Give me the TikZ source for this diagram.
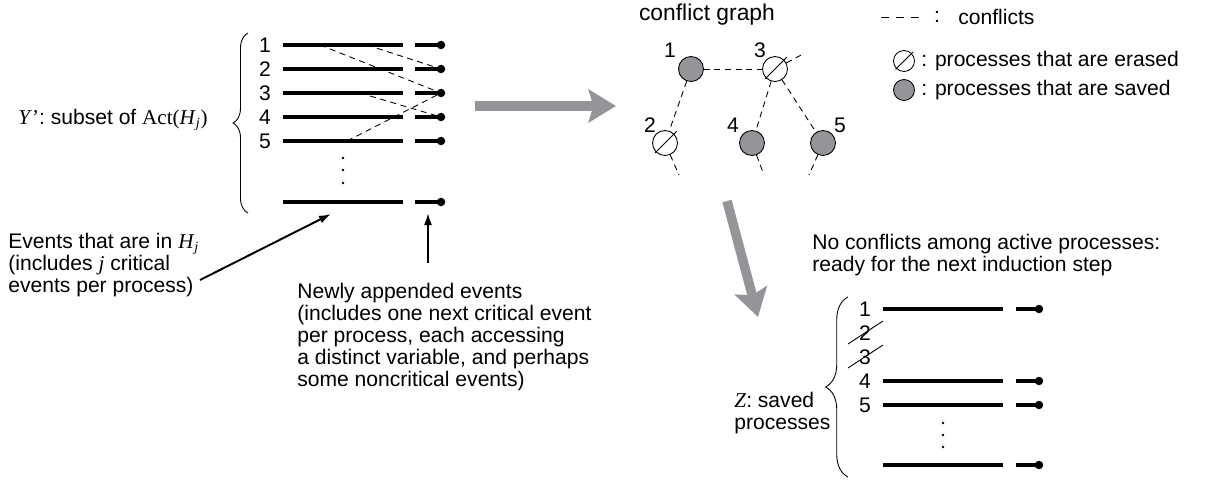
\documentclass[tikz,border=0pt]{standalone}
\usepackage{fontspec}
\setmainfont{Liberation Sans}
\newfontfamily\tms{Liberation Serif}
\usetikzlibrary{arrows.meta,decorations.pathreplacing}

\definecolor{procgray}{RGB}{147,149,152}
\newcommand{\HJ}{{\tms\textit{H}\textsubscript{\textit{j}}}}

\tikzset{
	txt/.style={font=\fontsize{12}{12.5}\selectfont, inner sep=0pt},
	evline/.style={line width=1.9pt},
	confl/.style={dash pattern=on 3.4pt off 2.6pt, line width=0.5pt},
	ptr/.style={-{Latex[length=0.24cm,width=0.16cm]}, line width=1.1pt},
	bigarrow/.style={-{Stealth[length=0.55cm,width=0.66cm,inset=0.1cm]}, line width=0.19cm, procgray},
	saved/.style={circle, draw, fill=procgray, minimum size=0.5cm, inner sep=0pt, line width=0.5pt},
	erased/.style={circle, draw, fill=white, minimum size=0.5cm, inner sep=0pt, line width=0.5pt},
	bracket/.style={decorate, decoration={brace, amplitude=#1}, line width=0.5pt},
}

\begin{document}
\begin{tikzpicture}[x=0.02cm, y=-0.02cm]
	\useasboundingbox (0,0) rectangle (1205,481);
	
	% processes of Y'
	\node[txt, anchor=east] (ylbl) at (208,120) {{\tms\textit{Y}’}: subset of {\tms Act(}\HJ{\tms)}};
	\foreach \i/\y in {1/45,2/69,3/93,4/117,5/141,l/202}{
		\coordinate (ya\i) at (283,\y);
		\coordinate (yb\i) at (403,\y);
		\coordinate (yc\i) at (415,\y);
		\coordinate (yd\i) at (441,\y);
		\draw[evline] (ya\i) -- (yb\i);
		\draw[evline] (yc\i) -- (yd\i);
		\fill (yd\i) circle[radius=0.085cm];
	}
	\foreach \i/\y in {1/45,2/69,3/93,4/117,5/141}
		\node[txt] (yn\i) at (265,\y) {\i};
	\foreach \y in {158,170,183}
		\fill (343,\y) circle[radius=0.028cm];
	\coordinate (ybot) at (248,213);
	\coordinate (ytop) at (248,33);
	\draw[bracket=0.3cm] (ybot) -- (ytop);
	
	\coordinate (ca) at (320,45);
	\coordinate (cb) at (367,45);
	\coordinate (cc) at (360,93);
	\coordinate (cd) at (347,141);
	\draw[confl] (ca) -- (yd3);
	\draw[confl] (cb) -- (yd2);
	\draw[confl] (cc) -- (yd4);
	\draw[confl] (cd) -- (yd3);
	
	\node[txt, anchor=west, align=left] (evtxt) at (8,265) {Events that are in \HJ\\(includes {\tms\textit{j}} critical\\events per process)};
	\node[txt, anchor=west, align=left] (newtxt) at (297,337) {Newly appended events\\(includes one next critical event\\per process, each accessing\\a distinct variable, and perhaps\\some noncritical events)};
	\coordinate (evtail) at (200,280);
	\coordinate (evtip) at (331,214);
	\draw[ptr] (evtail) -- (evtip);
	\coordinate (nwtail) at (428,263);
	\coordinate (nwtip) at (428,213);
	\draw[ptr] (nwtail) -- (nwtip);
	
	\coordinate (ba1) at (475,106);
	\coordinate (ba2) at (616,106);
	\draw[bigarrow] (ba1) -- (ba2);
	\coordinate (bb1) at (727,201);
	\coordinate (bb2) at (758,317);
	\draw[bigarrow] (bb1) -- (bb2);
	
	% conflict graph
	\node[txt, font=\fontsize{13}{14}\selectfont] (gtitle) at (707,15) {conflict graph};
	\node[saved] (g1) at (691,69) {};
	\node[erased] (g3) at (775,69) {};
	\node[erased] (g2) at (665,143) {};
	\node[saved] (g4) at (752,143) {};
	\node[saved] (g5) at (823,143) {};
	\node[txt] (g1l) at (670,50) {1};
	\node[txt] (g3l) at (760,50) {3};
	\node[txt] (g2l) at (650,125) {2};
	\node[txt] (g4l) at (733,125) {4};
	\node[txt] (g5l) at (840,125) {5};
	\draw[confl] (g1) -- (g3);
	\draw[confl] (g1) -- (g2);
	\draw[confl] (g3) -- (g4);
	\draw[confl] (g3) -- (g5);
	\coordinate (g3x) at (803,54);
	\coordinate (g2x) at (679,175);
	\coordinate (g4x) at (764,175);
	\coordinate (g5x) at (809,175);
	\draw[confl] (g3) -- (g3x);
	\draw[confl] (g2) -- (g2x);
	\draw[confl] (g4) -- (g4x);
	\draw[confl] (g5) -- (g5x);
	\foreach \n in {g2,g3}
		\draw[line width=0.5pt] ([shift={(225:0.28cm)}]\n.center) -- ([shift={(45:0.33cm)}]\n.center);
	
	% legend
	\coordinate (lgd1) at (881,17);
	\coordinate (lgd2) at (924,17);
	\draw[line width=0.5pt, dash pattern=on 4.5pt off 4pt] (lgd1) -- (lgd2);
	\node[txt] (lgcol) at (937,17) {:};
	\node[txt, anchor=west] (lgconf) at (958,17) {conflicts};
	\node[erased, minimum size=0.42cm] (lge) at (904,61) {};
	\draw[line width=0.5pt] ([shift={(225:0.24cm)}]lge.center) -- ([shift={(45:0.26cm)}]lge.center);
	\node[txt, anchor=west] (lgetxt) at (921,61) {: processes that are erased};
	\node[saved, minimum size=0.42cm] (lgs) at (904,90) {};
	\node[txt, anchor=west] (lgstxt) at (921,90) {: processes that are saved};
	
	% saved processes Z
	\node[txt, anchor=west, align=left] (nctxt) at (812,255) {No conflicts among active processes:\\ready for the next induction step};
	\foreach \i/\y in {1/309,4/381,5/405,l/465}{
		\coordinate (za\i) at (883,\y);
		\coordinate (zb\i) at (1003,\y);
		\coordinate (zc\i) at (1016,\y);
		\coordinate (zd\i) at (1039,\y);
		\draw[evline] (za\i) -- (zb\i);
		\draw[evline] (zc\i) -- (zd\i);
		\fill (zd\i) circle[radius=0.085cm];
	}
	\foreach \i/\y in {1/309,2/333,3/357,4/381,5/405}
		\node[txt] (zn\i) at (865,\y) {\i};
	\foreach \i in {2,3}
		\draw[line width=0.5pt] ([shift={(-0.34cm,-0.22cm)}]zn\i.center) -- ([shift={(0.36cm,0.24cm)}]zn\i.center);
	\foreach \y in {423,435,447}
		\fill (943,\y) circle[radius=0.028cm];
	\coordinate (zbot) at (848,477);
	\coordinate (ztop) at (848,297);
	\draw[bracket=0.45cm] (zbot) -- (ztop);
	\node[txt, anchor=west, align=left] (zlbl) at (734,413) {{\tms\textit{Z}}: saved\\processes};
\end{tikzpicture}
\end{document}
